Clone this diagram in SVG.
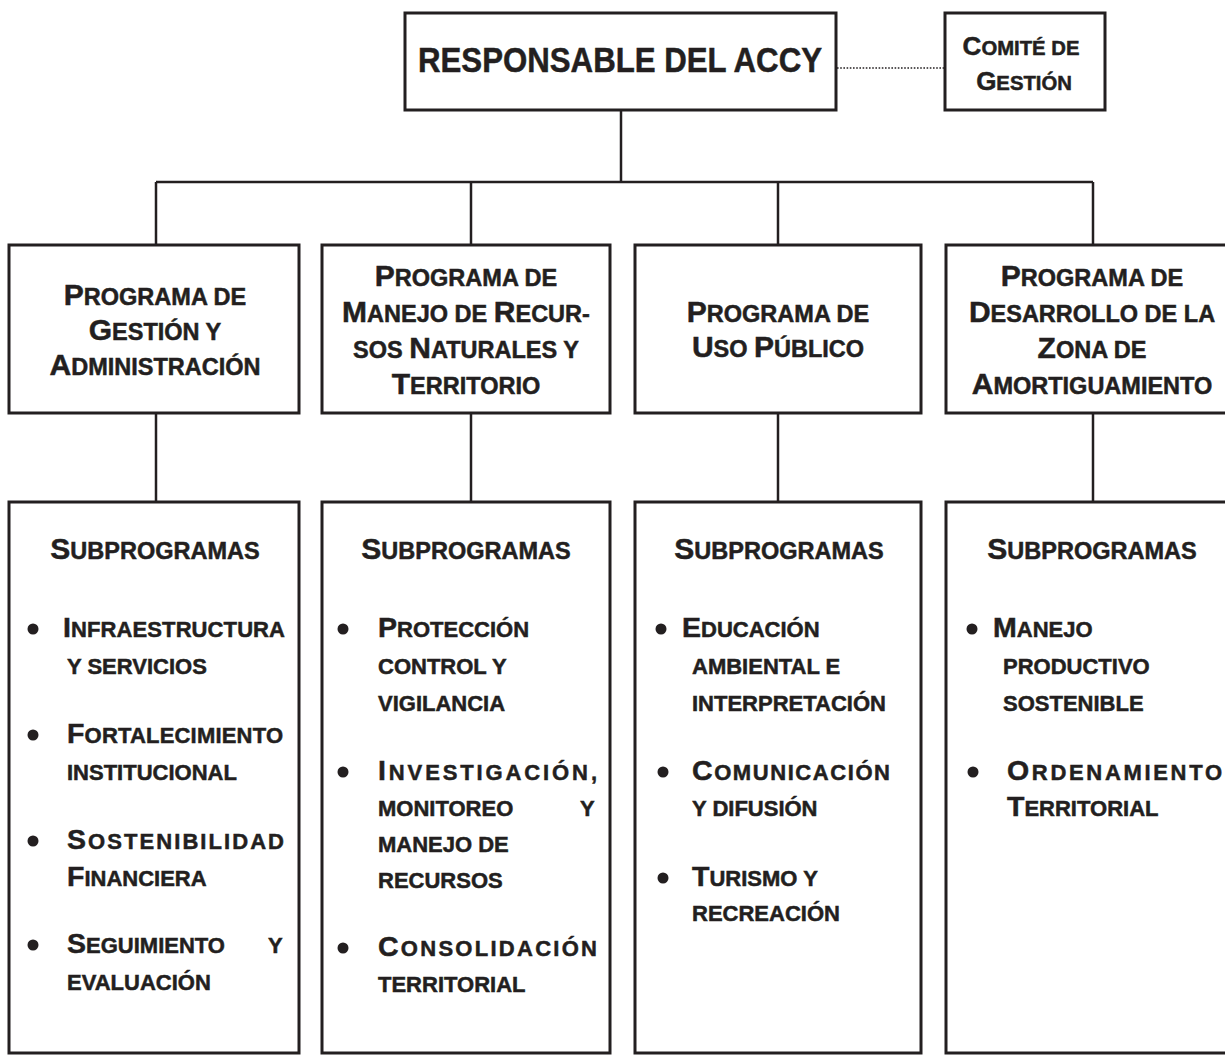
<svg xmlns="http://www.w3.org/2000/svg" width="1225" height="1056" viewBox="0 0 1225 1056">
<style>
.box{fill:#fff;stroke:#231f20;stroke-width:3}
.ln{stroke:#231f20;stroke-width:2.5;fill:none}
.dot{stroke:#231f20;stroke-width:1.6;stroke-dasharray:1.6 1.6;fill:none}
.tx{font-family:"Liberation Sans",Arial,sans-serif;font-weight:bold;fill:#231f20;stroke:#231f20;stroke-width:0.5}
.h{font-size:23.5px}.h .B{font-size:30px}
.c{font-size:20.3px}.c .B{font-size:26px}
.i{font-size:22px}.i .B{font-size:28.5px}
.m{text-anchor:middle}
.bl{fill:#231f20}
</style>
<rect width="1225" height="1056" fill="#fff"/>
<g id="connectors">
<line class="ln" x1="621" y1="110" x2="621" y2="182"/>
<line class="ln" x1="156" y1="182" x2="1093" y2="182"/>
<line class="ln" x1="156" y1="182" x2="156" y2="245"/>
<line class="ln" x1="471" y1="182" x2="471" y2="245"/>
<line class="ln" x1="778" y1="182" x2="778" y2="245"/>
<line class="ln" x1="1093" y1="182" x2="1093" y2="245"/>
<line class="ln" x1="156" y1="413" x2="156" y2="502"/>
<line class="ln" x1="471" y1="413" x2="471" y2="502"/>
<line class="ln" x1="778" y1="413" x2="778" y2="502"/>
<line class="ln" x1="1093" y1="413" x2="1093" y2="502"/>
<line class="dot" x1="837" y1="68" x2="944" y2="68"/>
</g>
<g id="responsable">
<rect class="box" x="405" y="13" width="431" height="97"/>
<text class="tx" x="418" y="72" font-size="35" textLength="404" lengthAdjust="spacingAndGlyphs">RESPONSABLE DEL ACCY</text>
</g>
<g id="comite">
<rect class="box" x="945" y="13" width="160" height="97"/>
<text class="tx c m" x="1021" y="55"><tspan class="B">C</tspan>OMITÉ DE</text>
<text class="tx c m" x="1024" y="90"><tspan class="B">G</tspan>ESTIÓN</text>
</g>
<g id="prog-gestion">
<rect class="box" x="9" y="245" width="290" height="168"/>
<text class="tx h m" x="155" y="305"><tspan class="B">P</tspan>ROGRAMA DE</text>
<text class="tx h m" x="155" y="340"><tspan class="B">G</tspan>ESTIÓN Y</text>
<text class="tx h m" x="155" y="375"><tspan class="B">A</tspan>DMINISTRACIÓN</text>
</g>
<g id="prog-manejo">
<rect class="box" x="322" y="245" width="288" height="168"/>
<text class="tx h m" x="466" y="286"><tspan class="B">P</tspan>ROGRAMA DE</text>
<text class="tx h m" x="466" y="322"><tspan class="B">M</tspan>ANEJO DE <tspan class="B">R</tspan>ECUR-</text>
<text class="tx h m" x="466" y="358">SOS <tspan class="B">N</tspan>ATURALES Y</text>
<text class="tx h m" x="466" y="394"><tspan class="B">T</tspan>ERRITORIO</text>
</g>
<g id="prog-uso">
<rect class="box" x="635" y="245" width="286" height="168"/>
<text class="tx h m" x="778" y="322"><tspan class="B">P</tspan>ROGRAMA DE</text>
<text class="tx h m" x="778" y="357"><tspan class="B">U</tspan>SO <tspan class="B">P</tspan>ÚBLICO</text>
</g>
<g id="prog-desarrollo">
<rect class="box" x="946" y="245" width="292" height="168"/>
<text class="tx h m" x="1092" y="286"><tspan class="B">P</tspan>ROGRAMA DE</text>
<text class="tx h m" x="1092" y="322"><tspan class="B">D</tspan>ESARROLLO DE LA</text>
<text class="tx h m" x="1092" y="358"><tspan class="B">Z</tspan>ONA DE</text>
<text class="tx h m" x="1092" y="394"><tspan class="B">A</tspan>MORTIGUAMIENTO</text>
</g>
<g id="sub-gestion">
<rect class="box" x="9" y="502" width="290" height="551"/>
<text class="tx h m" x="155" y="559"><tspan class="B">S</tspan>UBPROGRAMAS</text>
<circle class="bl" cx="33" cy="629" r="5.5"/>
<text class="tx i" x="63" y="637" textLength="222"><tspan class="B">I</tspan>NFRAESTRUCTURA</text>
<text class="tx i" x="67" y="674">Y SERVICIOS</text>
<circle class="bl" cx="33" cy="735" r="5.5"/>
<text class="tx i" x="67" y="743" textLength="216"><tspan class="B">F</tspan>ORTALECIMIENTO</text>
<text class="tx i" x="67" y="780">INSTITUCIONAL</text>
<circle class="bl" cx="33" cy="841" r="5.5"/>
<text class="tx i" x="67" y="849" textLength="217"><tspan class="B">S</tspan>OSTENIBILIDAD</text>
<text class="tx i" x="67" y="886"><tspan class="B">F</tspan>INANCIERA</text>
<circle class="bl" cx="33" cy="945" r="5.5"/>
<text class="tx i" x="67" y="953"><tspan class="B">S</tspan>EGUIMIENTO<tspan x="268">Y</tspan></text>
<text class="tx i" x="67" y="990">EVALUACIÓN</text>
</g>
<g id="sub-manejo">
<rect class="box" x="322" y="502" width="288" height="551"/>
<text class="tx h m" x="466" y="559"><tspan class="B">S</tspan>UBPROGRAMAS</text>
<circle class="bl" cx="343" cy="629" r="5.5"/>
<text class="tx i" x="378" y="637"><tspan class="B">P</tspan>ROTECCIÓN</text>
<text class="tx i" x="378" y="674">CONTROL Y</text>
<text class="tx i" x="378" y="711">VIGILANCIA</text>
<circle class="bl" cx="343" cy="772" r="5.5"/>
<text class="tx i" x="378" y="780" textLength="219"><tspan class="B">I</tspan>NVESTIGACIÓN,</text>
<text class="tx i" x="378" y="816">MONITOREO<tspan x="580">Y</tspan></text>
<text class="tx i" x="378" y="852">MANEJO DE</text>
<text class="tx i" x="378" y="888">RECURSOS</text>
<circle class="bl" cx="343" cy="948" r="5.5"/>
<text class="tx i" x="378" y="956" textLength="219"><tspan class="B">C</tspan>ONSOLIDACIÓN</text>
<text class="tx i" x="378" y="992">TERRITORIAL</text>
</g>
<g id="sub-uso">
<rect class="box" x="635" y="502" width="286" height="551"/>
<text class="tx h m" x="779" y="559"><tspan class="B">S</tspan>UBPROGRAMAS</text>
<circle class="bl" cx="661" cy="629" r="5.5"/>
<text class="tx i" x="682" y="637"><tspan class="B">E</tspan>DUCACIÓN</text>
<text class="tx i" x="692" y="674">AMBIENTAL E</text>
<text class="tx i" x="692" y="711">INTERPRETACIÓN</text>
<circle class="bl" cx="663" cy="772" r="5.5"/>
<text class="tx i" x="692" y="780" textLength="198"><tspan class="B">C</tspan>OMUNICACIÓN</text>
<text class="tx i" x="692" y="816">Y DIFUSIÓN</text>
<circle class="bl" cx="663" cy="878" r="5.5"/>
<text class="tx i" x="692" y="886"><tspan class="B">T</tspan>URISMO Y</text>
<text class="tx i" x="692" y="921">RECREACIÓN</text>
</g>
<g id="sub-desarrollo">
<rect class="box" x="946" y="502" width="292" height="551"/>
<text class="tx h m" x="1092" y="559"><tspan class="B">S</tspan>UBPROGRAMAS</text>
<circle class="bl" cx="972" cy="629" r="5.5"/>
<text class="tx i" x="993" y="637"><tspan class="B">M</tspan>ANEJO</text>
<text class="tx i" x="1003" y="674">PRODUCTIVO</text>
<text class="tx i" x="1003" y="711">SOSTENIBLE</text>
<circle class="bl" cx="973" cy="772" r="5.5"/>
<text class="tx i" x="1007" y="780" textLength="215"><tspan class="B">O</tspan>RDENAMIENTO</text>
<text class="tx i" x="1007" y="816"><tspan class="B">T</tspan>ERRITORIAL</text>
</g>
</svg>
